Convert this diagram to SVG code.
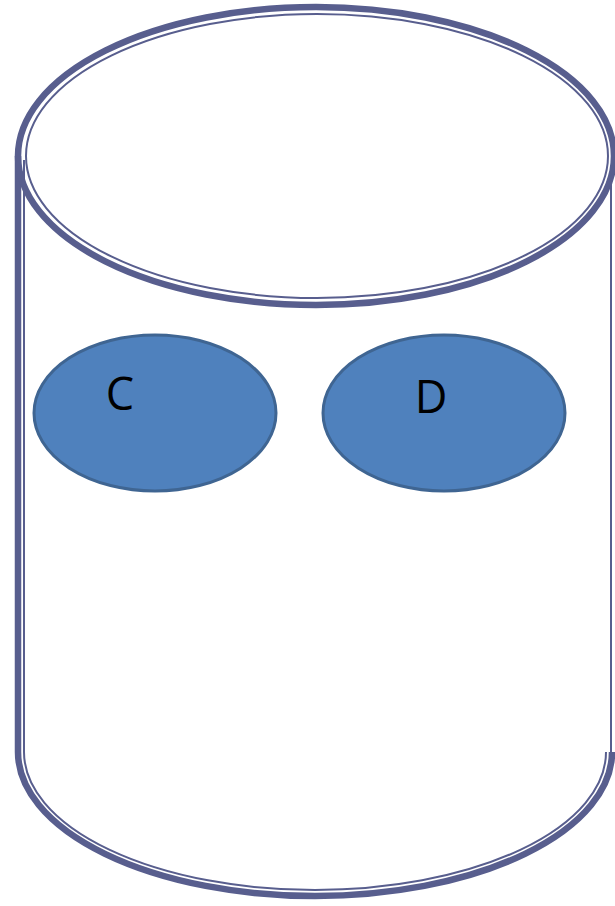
<svg xmlns="http://www.w3.org/2000/svg" width="615" height="906" viewBox="0 0 615 906">
<style>
.outer{fill:none;stroke:#585E8E;stroke-width:6.5}
.inner{fill:none;stroke:#585E8E;stroke-width:2}
.blob{fill:#4F81BD;stroke:#3F6592;stroke-width:3}
.lbl{font-family:"Open Sans","Noto Sans",sans-serif;font-size:45px;fill:#000;text-anchor:middle}
</style>
<rect width="615" height="906" fill="#fff"/>
<g id="cylinder">
<path class="outer" d="M18,156 V752 A297,144 0 0 0 612,752"/>
<path class="inner" d="M24,160 V752 A291,138 0 0 0 606,752"/>
<line class="inner" x1="611" y1="170" x2="611" y2="754"/>
<ellipse class="outer" cx="316" cy="156" rx="298" ry="149"/>
<ellipse class="inner" cx="317" cy="156" rx="291" ry="142"/>
</g>
<g id="nodeC">
<ellipse class="blob" cx="155" cy="413" rx="121" ry="78"/>
<text class="lbl" x="120" y="410">C</text>
</g>
<g id="nodeD">
<ellipse class="blob" cx="444" cy="413" rx="121" ry="78"/>
<text class="lbl" x="431" y="413">D</text>
</g>
<g id="connectors"/>
</svg>
